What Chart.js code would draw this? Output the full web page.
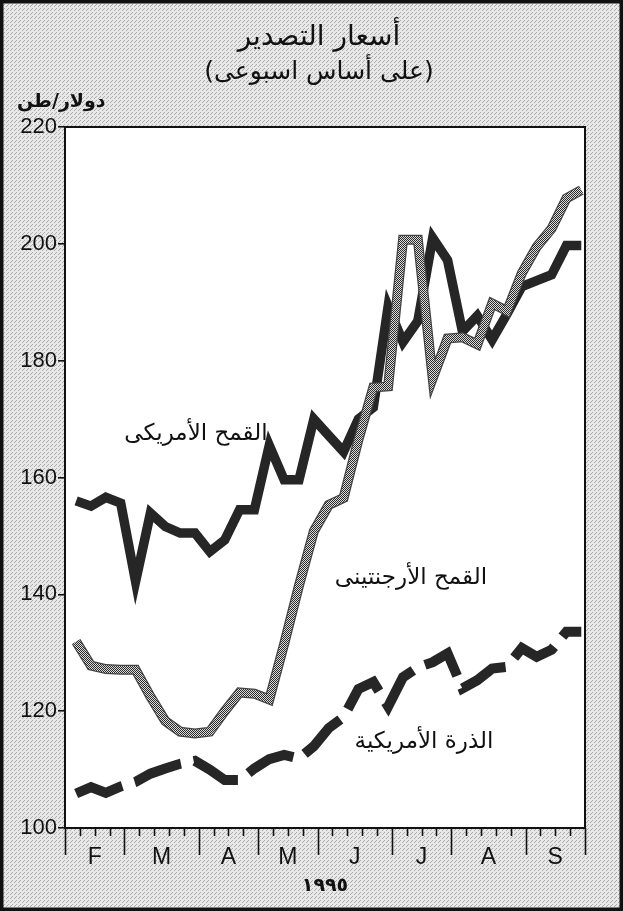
<!DOCTYPE html>
<html><head><meta charset="utf-8">
<script src="https://cdn.jsdelivr.net/npm/chart.js@4"></script>
<style>html,body{margin:0;padding:0;background:#fff}#wrap{width:623px;height:911px}</style>
</head><body><div id="wrap"><canvas id="c" width="623" height="911"></canvas></div>
<script>
// ---- data ----
const titleLine1 = 'أسعار التصدير';
const titleLine2 = '(على أساس اسبوعى)';
const unitLabel = 'دولار/طن';
const yearLabel = '١٩٩٥';
const monthLabels = ['F','M','A','M','J','J','A','S'];
const monthBounds = [0,4,9,13,17,22,26,31,35];      // week index of month boundaries
const yTicks = [100,120,140,160,180,200,220];
const weekPos = [0.75,1.75,2.75,3.75,4.75,5.75,6.75,7.75,8.75,9.75,10.75,11.75,12.75,13.75,14.75,15.75,16.75,17.75,18.75,19.75,20.75,21.75,22.75,23.75,24.75,25.75,26.75,27.75,28.75,29.75,30.75,31.75,32.75,33.75,34.75];
const seriesNames = ['القمح الأمريكى','القمح الأرجنتينى','الذرة الأمريكية'];
const usWheat  = [156.0,155.1,156.6,155.6,142.2,153.9,151.6,150.5,150.5,147.3,149.3,154.5,154.5,165.5,159.6,159.6,170.0,167.2,164.4,170.0,172.0,189.3,183.2,186.8,201.0,197.2,185.0,187.7,183.6,188.0,192.7,193.7,194.7,199.7,199.7];
const argWheat = [131.9,127.8,127.2,127.1,127.1,122.5,118.3,116.5,116.2,116.5,120.0,123.2,123.0,122.0,131.5,141.5,150.8,155.3,156.5,166.5,175.4,175.6,200.7,200.7,177.0,183.8,184.0,182.8,189.8,188.5,195.0,199.5,202.6,207.8,209.2];
const usCorn   = [105.9,107.0,106.0,107.1,107.9,109.3,110.2,111.0,111.5,110.0,108.2,108.2,110.2,111.8,112.5,111.9,114.0,117.1,119.0,123.8,125.0,120.8,125.8,127.5,128.4,129.9,123.9,125.3,127.3,127.6,130.8,129.3,130.5,133.6,133.6];
const labelPos = [[196,434],[411,578],[424,742]]; // [x,y] centres of the in-plot series labels
// -----------------------------------------

const pts = arr => weekPos.map((x,i)=>({x:x, y:arr[i]}));
const AR = '"DejaVu Sans", sans-serif';
const LAT = '"Liberation Sans", Arial, sans-serif';

function makeTile(size, base, dots, col){
  const t = document.createElement('canvas'); t.width=size; t.height=size;
  const g = t.getContext('2d'); g.fillStyle=base; g.fillRect(0,0,size,size);
  g.fillStyle=col; dots.forEach(d=>g.fillRect(d[0],d[1],1,1));
  return t;
}
const ctx0 = document.getElementById('c').getContext('2d');
const argPattern = ctx0.createPattern(makeTile(2,'#dcdcdc',[[0,0],[1,1]],'#2a2a2a'),'repeat');
const bgPattern = ctx0.createPattern(makeTile(4,'#e8e8e8',[[0,0],[2,2],[3,1]],'#ababab'),'repeat');

const deco = {
  id:'deco',
  beforeDraw(chart){
    const {ctx, chartArea:a, width, height} = chart;
    ctx.save();
    ctx.fillStyle = bgPattern; ctx.fillRect(0,0,width,height);
    ctx.fillStyle = '#fff'; ctx.fillRect(a.left,a.top,a.right-a.left,a.bottom-a.top);
    ctx.fillStyle = '#111'; ctx.textBaseline='middle';
    ctx.direction = 'rtl'; ctx.textAlign='center';
    ctx.font = '28px ' + AR; ctx.fillText(titleLine1, 319, 38);
    ctx.font = '25px ' + AR; ctx.fillText(titleLine2, 319, 72);
    ctx.textAlign='left';
    ctx.font = 'bold 19px ' + AR; ctx.fillText(unitLabel, 17, 102);
    ctx.restore();
  },
  afterDraw(chart){
    const {ctx, chartArea:a, width, height} = chart;
    const xs = chart.scales.x;
    ctx.save();
    ctx.strokeStyle = '#111'; ctx.lineWidth = 2;
    ctx.strokeRect(a.left, a.top, a.right-a.left, a.bottom-a.top);
    ctx.lineWidth = 1.6;
    ctx.beginPath();
    for(let w=monthBounds[0]; w<=monthBounds[monthBounds.length-1]; w++){
      const px = Math.round(xs.getPixelForValue(w))+0.5;
      const len = monthBounds.includes(w) ? 27 : 8;
      ctx.moveTo(px, a.bottom); ctx.lineTo(px, a.bottom+len);
    }
    ctx.stroke();
    ctx.fillStyle='#111'; ctx.textAlign='center'; ctx.textBaseline='middle';
    ctx.font = '23px ' + LAT;
    monthLabels.forEach((m,i)=>{
      const c = (monthBounds[i]+monthBounds[i+1])/2;
      ctx.fillText(m, xs.getPixelForValue(c), a.bottom+30);
    });
    ctx.font = 'bold 19px ' + AR;
    ctx.fillText(yearLabel, (a.left+a.right)/2, a.bottom+58);
    ctx.direction='rtl';
    ctx.font = '23px ' + AR;
    seriesNames.forEach((n,i)=>ctx.fillText(n, labelPos[i][0], labelPos[i][1]));
    ctx.direction='ltr';
    ctx.lineWidth = 3.5; ctx.strokeStyle='#111';
    ctx.strokeRect(1.75,1.75,width-3.5,height-3.5);
    ctx.restore();
  }
};

// dataset 0 is painted last (on top)
new Chart(document.getElementById('c'), {
  type:'line',
  data:{ datasets:[
    {label:seriesNames[1], data:pts(argWheat), borderColor:argPattern, borderWidth:7.5, borderJoinStyle:'miter'},
    {label:seriesNames[1]+' edge', data:pts(argWheat), borderColor:'#444444', borderWidth:10, borderJoinStyle:'miter'},
    {label:seriesNames[0], data:pts(usWheat), borderColor:'#262626', borderWidth:9.5, borderJoinStyle:'miter'},
    {label:seriesNames[2], data:pts(usCorn), borderColor:'#262626', borderWidth:10, borderDash:[50,13], borderCapStyle:'butt', borderJoinStyle:'miter'}
  ]},
  options:{
    responsive:false, animation:false, devicePixelRatio:1,
    layout:{padding:{left:0,right:38,top:127,bottom:83}},
    plugins:{legend:{display:false}, tooltip:{enabled:false}, title:{display:false}},
    elements:{point:{radius:0}, line:{tension:0, fill:false}},
    scales:{
      x:{type:'linear', min:monthBounds[0], max:monthBounds[monthBounds.length-1], display:false},
      y:{min:yTicks[0], max:yTicks[yTicks.length-1],
         afterBuildTicks:s=>{s.ticks = yTicks.map(v=>({value:v}));},
         afterFit:s=>{s.width = 65;},
         border:{display:false},
         grid:{drawOnChartArea:false, tickLength:7, color:'#111', lineWidth:1.6},
         ticks:{font:{family:'Liberation Sans', size:22}, color:'#111', padding:1}}
    }
  },
  plugins:[deco]
});
</script></body></html>
